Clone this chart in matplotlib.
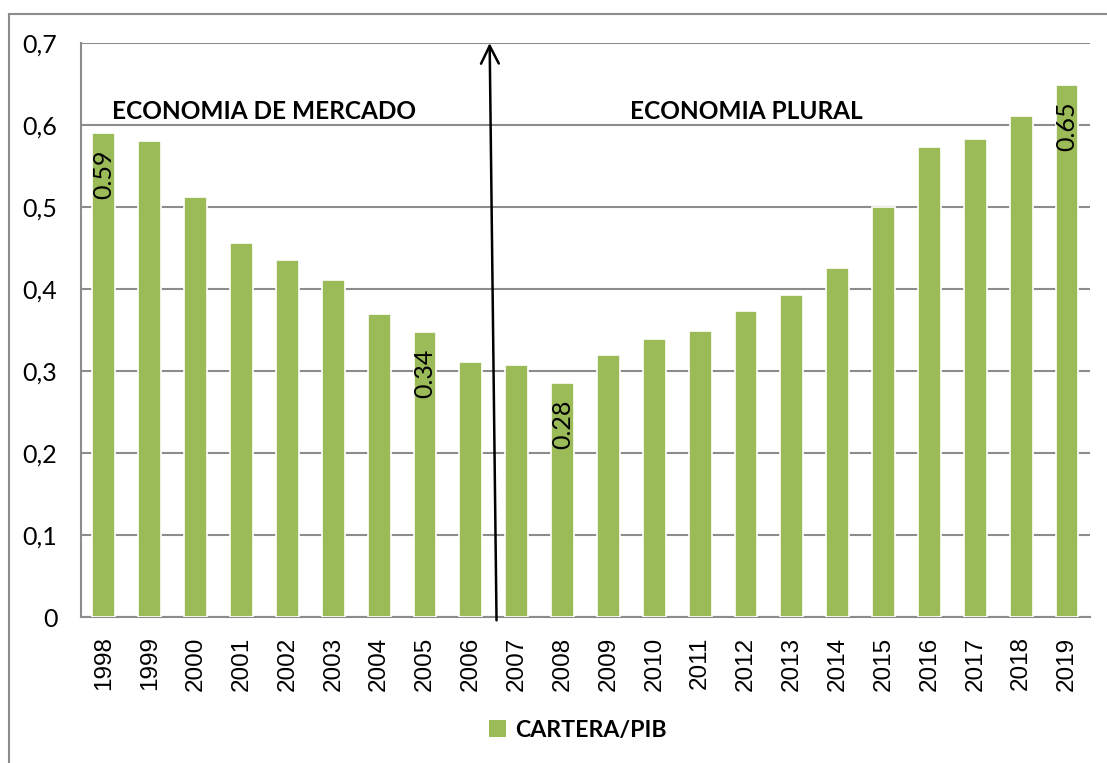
import numpy as np
import matplotlib
matplotlib.use("Agg")
import matplotlib.pyplot as plt
from matplotlib.lines import Line2D
from matplotlib.patches import Patch

# data
years = [str(y) for y in range(1998, 2020)]
cartera_pib = [0.59, 0.58, 0.512, 0.456, 0.435, 0.411, 0.370, 0.347, 0.311, 0.307,
               0.285, 0.319, 0.339, 0.349, 0.373, 0.393, 0.426, 0.500, 0.573, 0.583,
               0.611, 0.649]
labelled = {"1998": "0.59", "2005": "0.34", "2008": "0.28", "2019": "0.65"}
y_ticks = [0, 0.1, 0.2, 0.3, 0.4, 0.5, 0.6, 0.7]
y_ticklabels = ["0", "0,1", "0,2", "0,3", "0,4", "0,5", "0,6", "0,7"]

GREEN = "#9bbb59"
GRID = "#8c8c8c"

fig = plt.figure(figsize=(11.07, 7.63), dpi=100)
ax = fig.add_axes([0.0732, 0.1913, 0.9114, 0.7523])

x = np.arange(len(years))
ax.bar(x, cartera_pib, width=0.5, color=GREEN, edgecolor="white", linewidth=1.2, zorder=3)

for i, yr in enumerate(years):
	if yr in labelled:
		ax.text(i, cartera_pib[i] - 0.02, labelled[yr], rotation=90, ha="center", va="top",
			fontsize=18, family="Lato", color="black", zorder=4)

ax.set_xlim(-0.5, len(years) - 0.5)
ax.set_ylim(0, 0.7)
ax.set_yticks(y_ticks)
ax.set_yticklabels(y_ticklabels, family="Lato", fontsize=18)
ax.set_xticks(x)
ax.set_xticklabels(years, rotation=90, family="Liberation Sans", fontsize=17.5)
ax.tick_params(axis="both", length=0)
ax.tick_params(axis="y", pad=17)
ax.tick_params(axis="x", pad=14)

ax.yaxis.grid(True, color=GRID, linewidth=1.5, zorder=0)
ax.set_axisbelow(True)
for side in ["top", "right"]:
	ax.spines[side].set_visible(False)
for side in ["left", "bottom"]:
	ax.spines[side].set_color(GRID)
	ax.spines[side].set_linewidth(1.5)

# regime change arrow
ax.annotate("", xy=(8.41, 0.7), xytext=(8.56, -0.004),
	arrowprops=dict(arrowstyle="->", color="black", lw=1.8, mutation_scale=32,
		shrinkA=0, shrinkB=0), annotation_clip=False, zorder=5)

ax.text(3.49, 0.616, "ECONOMIA DE MERCADO", ha="center", va="center",
	fontsize=17.6, fontweight="bold", family="Lato")
ax.text(14.0, 0.616, "ECONOMIA PLURAL", ha="center", va="center",
	fontsize=17.6, fontweight="bold", family="Lato")

handle = Patch(facecolor=GREEN, edgecolor="none")
leg = fig.legend([handle], ["CARTERA/PIB"], loc="center", bbox_to_anchor=(0.522, 0.043),
	frameon=False, handlelength=0.75, handleheight=0.75, handletextpad=0.4,
	prop=dict(family="Lato", weight="bold", size=16.7))

# outer chart border (left and top edges visible)
fig.add_artist(Line2D([0.0081, 0.0081], [0, 0.9817], color="#8c8c8c", lw=1.5, transform=fig.transFigure))
fig.add_artist(Line2D([0.0081, 1.0], [0.9817, 0.9817], color="#8c8c8c", lw=1.5, transform=fig.transFigure))

fig.savefig("out.png", dpi=100)
